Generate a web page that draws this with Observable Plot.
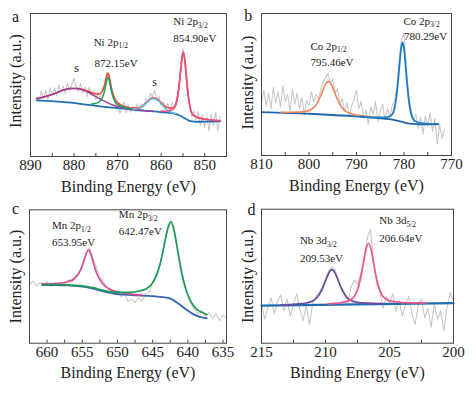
<!DOCTYPE html>
<html><head><meta charset="utf-8">
<script src="https://cdn.jsdelivr.net/npm/d3@7"></script>
<script src="https://cdn.jsdelivr.net/npm/@observablehq/plot@0.6"></script>
<style>
body{margin:0;background:#fff;}
#wrap{position:relative;width:476px;height:393px;background:#fff;overflow:hidden;font-family:'Liberation Serif',serif;}
.panel{position:absolute;}
.panel svg text{font-family:'Liberation Serif',serif;}
</style></head><body><div id="wrap"></div>
<script>
// ---------- Panel a: Ni 2p ----------
const aTicks = [890, 880, 870, 860, 850];
const aMinor = [885, 875, 865, 855];
const aRaw = [[888.5,41.5],[888,38.8],[887.5,46],[887,40.7],[886.5,46.2],[886,39.6],[885.5,48],[885,43.5],[884.5,48],[884,42.6],[883.5,50.2],[883,44.7],[882.5,49.3],[882,43.8],[881.5,51.2],[881,45.5],[880.5,50.7],[880,54.7],[879.5,48.6],[879,45.5],[878.5,51.2],[878,43.9],[877.5,48.5],[877,42],[876.5,48.4],[876,42.9],[875.5,46.2],[875,39.8],[874.5,44.6],[874,40.8],[873.5,47.5],[873,50.7],[872.5,58.5],[872,58],[871.5,47],[871,44],[870.5,35.7],[870,38.8],[869.5,30.5],[869,33.6],[868.5,38],[868,30.6],[867.5,36.1],[867,30.9],[866.5,34.8],[866,31.8],[865.5,36.9],[865,33.3],[864.5,36.9],[864,34.9],[863.5,40.4],[863,37.9],[862.5,44.3],[862,41.9],[861.5,46],[861,39.4],[860.5,42.2],[860,35.7],[859.5,38.2],[859,32.9],[858.5,37.2],[858,31.9],[857.5,37.9],[857,34.4],[856.5,39.8],[856,47.4],[855.5,62.9],[855,75.5],[854.5,66],[854,50],[853.5,38],[853,28],[852.5,31.7],[852,25.8],[851.5,31.2],[851,21.7],[850.5,29.4],[850,20.1],[849.5,27.9],[849,17.7],[848.5,29.5],[848,21.3],[847.5,31.2],[847,18.1],[846.5,28]];
const aBackground = [[888.6,39.2],[881.6,37.8],[874,35.0],[866.3,32.7],[860.2,31.1],[857,29.9],[855.6,28.5],[854.4,26.4],[853.3,24.8],[851.7,24.3],[846.5,24.5]];
const aSatellite1 = [[888.6,40.5],[887.4,41.2],[885.4,43.0],[883.9,44.7],[882.4,46.5],[880.9,47.5],[879.4,47.6],[877.9,46.4],[876.4,44.4],[874.9,41.7],[873.4,39.2],[871.9,37.0],[870.4,35.3],[868.9,34.2],[867.4,33.3],[865,32.4],[862,31.6]];
const aPeak1 = [[876,36.7],[875,37.2],[874,38.8],[873.5,41.1],[873,45.8],[872.6,51.8],[872.2,55.5],[871.8,51.5],[871.4,45.3],[870.9,40.3],[870.4,37.6],[869.4,35.3],[868.4,34.2],[867,33.4]];
const aSatellite2 = [[866.5,33.0],[865.5,33.3],[864.5,34.4],[863.5,36.9],[862.5,39.7],[861.7,40.4],[860.8,39.2],[859.8,36.1],[858.8,33.0],[857.8,31.1],[856.8,30.1]];
const aPeak2 = [[860,31.7],[859,31.65],[858,32.1],[857,34.0],[856.5,37.6],[856,46.3],[855.5,60.9],[855.2,69.4],[854.9,72.9],[854.6,68.4],[854.3,58.8],[853.8,42.7],[853.3,33.5],[852.8,29.5],[851.8,27.5],[850.8,26.6],[849.8,26.0],[847.9,25.3],[846.5,25.0]];
const aEnvelope = [[888.6,40.5],[887.4,41.2],[885.4,43.0],[883.9,44.7],[882.4,46.5],[880.9,47.6],[879.4,47.6],[877.9,46.9],[876.4,45.2],[875.4,44.0],[874.4,43.6],[873.6,45.2],[873.0,49.7],[872.6,55.3],[872.2,58.4],[871.8,54.1],[871.4,47.6],[870.9,42.3],[870.4,39.1],[869.4,36.3],[868.4,34.9],[867.4,34.0],[866.5,33.8],[865.5,33.9],[864.5,34.9],[863.5,37.4],[862.5,40.3],[861.7,41.05],[860.8,39.85],[859.8,37.0],[858.8,34.4],[857.8,33.9],[857,34.4],[856.5,37.75],[856,46.4],[855.5,60.9],[855.2,69.4],[854.9,72.9],[854.6,68.4],[854.3,58.8],[853.8,42.7],[853.3,33.5],[852.8,29.5],[851.8,27.5],[850.8,26.6],[849.8,26.0],[847.9,25.3],[846.5,25.0]];
const aNotes = [
  {E: 875.5, v: 80.0, t: "Ni 2p_{1/2}"}, {E: 875.3, v: 65.4, t: "872.15eV"},
  {E: 857.2, v: 94.2, t: "Ni 2p_{3/2}"}, {E: 857.2, v: 82.8, t: "854.90eV"}];
const aSatLabels = [{E: 879.4, v: 61.7, t: "s"}, {E: 861.5, v: 51.9, t: "s"}];

// ---------- Panel b: Co 2p ----------
const bTicks = [810, 800, 790, 780, 770];
const bMinor = [805, 795, 785, 775];
const bRaw = [[810,38],[809.5,46],[809,35],[808.5,44],[808,33],[807.5,48],[807,37],[806.5,45],[806,34],[805.5,49],[805,38],[804.5,43],[804,31],[803.5,47],[803,36],[802.5,44],[802,33],[801.5,41],[801,28],[800.5,39],[800,35],[799.5,45],[799,38],[798.5,43],[798,40],[797.5,47],[797,52],[796.5,55],[796,58],[795.5,51],[795,54],[794.5,44],[794,47],[793.5,36],[793,40],[792.5,31],[792,37],[791.5,28],[791,35],[790.5,40],[790,46],[789.5,33],[789,38],[788.5,26],[788,32],[787.5,22],[787,34],[786.5,29],[786,38],[785.5,24],[785,31],[784.5,36],[784,25],[783.5,33],[783,28],[782.5,35],[782,39],[781.5,48],[781,68],[780.5,82],[780,86],[779.5,62],[779,42],[778.5,33],[778,24],[777.5,29],[777,19],[776.5,27],[776,15],[775.5,28],[775,21],[774.5,30],[774,17],[773.5,26],[773,8],[772.5,22],[772,12],[771.5,18]];
const bBackground = [[810,30.6],[800,29.4],[790,27.5],[784.4,25.9],[782.5,25.3],[781.5,24.6],[780.3,23.6],[779.4,22.8],[778.3,22.2],[776.6,21.9],[772.8,21.9]];
const bPeak1 = [[805.9,30.5],[803.9,30.5],[801.9,30.6],[800.4,31.25],[799.2,33.15],[798.4,36.2],[797.7,40.75],[797.1,45.7],[796.5,50.3],[795.9,52.2],[795.3,50.1],[794.7,45.3],[794.1,40.15],[793.4,35.4],[792.6,31.95],[791.4,29.7],[789.9,28.55],[787.9,27.6],[785.9,26.7]];
const bPeak2 = [[789.3,27.5],[786.3,26.8],[784.3,26.8],[783.3,27.2],[782.5,28.9],[782.0,33.3],[781.6,41.2],[781.25,52.35],[780.9,65.8],[780.6,75.6],[780.3,79.6],[780.0,75.1],[779.7,64.7],[779.35,50.8],[779.0,39.15],[778.6,30.65],[778.1,25.75],[777.3,23.6],[776.3,22.8],[774.3,22.3],[772.8,22.2]];
const bNotes = [
  {E: 780.1, v: 94.6, t: "Co 2p_{3/2}"}, {E: 780.0, v: 83.6, t: "780.29eV"},
  {E: 799.7, v: 77.0, t: "Co 2p_{1/2}"}, {E: 799.7, v: 65.2, t: "795.46eV"}];

// ---------- Panel c: Mn 2p ----------
const cTicks = [660, 655, 650, 645, 640, 635];
const cMinor = [657.5, 652.5, 647.5, 642.5, 637.5];
const cRaw = [[662.5,44],[662,46.5],[661.5,43],[661,45.5],[660.5,44],[660,46],[659.5,42.5],[659,45],[658.5,43.5],[658,46],[657.5,44],[657,47.5],[656.5,46],[656,50],[655.5,52.5],[655,59],[654.5,66],[654,71.5],[653.5,64],[653,57],[652.5,50],[652,46],[651.5,42],[651,39.5],[650.5,37],[650,39],[649.5,35],[649,37.5],[648.5,31],[648,33],[647.5,30.5],[647,34],[646.5,31.5],[646,37],[645.5,38],[645,45],[644.5,52],[644,58.5],[643.5,70],[643,82],[642.5,90],[642,88],[641.5,73],[641,58],[640.5,46],[640,36],[639.5,29],[639,25],[638.5,22],[638,24.5],[637.5,20],[637,23],[636.5,18.5],[636,22],[635.5,17],[635,21],[634.5,19]];
const cBackground = [[660.7,43.8],[657,43.3],[655,42.5],[653.5,41.0],[652,38.8],[650.5,37.2],[648,36.0],[645,35.3],[643.5,34.5],[642.3,33.0],[641.3,29.5],[640.3,25.5],[639.3,22.0],[638.3,19.8],[637.3,18.8]];
const cPeak1 = [[660.7,44.4],[658.5,44.9],[657.1,46.1],[656.1,48.5],[655.3,54.2],[654.8,61.1],[654.4,67.8],[654.1,69.8],[653.8,67.2],[653.4,59.7],[652.9,51.7],[652.1,44.6],[651.1,40.4],[649.7,38.2],[648.1,36.8],[646.5,36.1]];
const cPeak2 = [[660.7,44.0],[657,43.6],[655,43.0],[653.5,41.6],[652,39.65],[650.5,38.3],[648.3,38.1],[646.9,39.1],[645.9,40.85],[645.1,44.5],[644.4,51.4],[643.9,60.1],[643.4,72.3],[642.9,85.1],[642.4,91.1],[641.9,83.1],[641.4,68.0],[640.9,53.4],[640.4,42.4],[639.7,32.6],[638.9,26.3],[637.9,22.8],[637.3,21.5]];
const cNotes = [
  {E: 659.3, v: 88.2, t: "Mn 2p_{1/2}"}, {E: 659.3, v: 75.8, t: "653.95eV"},
  {E: 649.8, v: 96.2, t: "Mn 2p_{3/2}"}, {E: 649.8, v: 83.4, t: "642.47eV"}];

// ---------- Panel d: Nb 3d ----------
const dTicks = [215, 210, 205, 200];
const dMinor = [212.5, 207.5, 202.5];
const dRaw = [[215,30],[214.75,18],[214.5,27],[214.25,34],[214,22],[213.75,31],[213.5,36],[213.25,24],[213,33],[212.75,20],[212.5,29],[212.25,37],[212,25],[211.75,17],[211.5,28],[211.25,14],[211,30],[210.75,35],[210.5,38],[210.25,42],[210,48],[209.75,54],[209.5,57],[209.25,55],[209,47],[208.75,41],[208.5,37],[208.25,30],[208,42],[207.75,47],[207.5,44],[207.25,52],[207,63],[206.75,78],[206.5,85],[206.25,62],[206,44],[205.75,38],[205.5,26],[205.25,35],[205,30],[204.75,37],[204.5,24],[204.25,32],[204,20],[203.75,29],[203.5,35],[203.25,22],[203,14],[202.75,28],[202.5,33],[202.25,19],[202,26],[201.75,12],[201.5,30],[201.25,18],[201,24],[200.75,9],[200.5,27],[200.25,38],[200,31]];
const dBackground = [[215,28.1],[200,29.9]];
const dPeak1 = [[213.5,28.67],[212.3,29.2],[211.5,30.0],[210.9,32.0],[210.5,36.1],[210.2,41.7],[210.0,46.5],[209.75,52.2],[209.5,54.9],[209.25,52.3],[209.0,46.6],[208.8,41.9],[208.5,36.4],[208.1,32.3],[207.5,30.5],[206.7,29.9],[205.5,29.6]];
const dPeak2 = [[209.8,29.4],[208.9,30.1],[208.24,31.4],[207.74,35.0],[207.44,41.55],[207.19,51.8],[207.04,59.7],[206.84,69.9],[206.64,74.6],[206.44,70.0],[206.24,59.75],[206.09,51.9],[205.84,41.75],[205.54,35.2],[205.04,31.75],[204.34,30.6],[203.44,30.1],[202.14,30.0]];
const dNotes = [
  {E: 205.8, v: 91.5, t: "Nb 3d_{5/2}"}, {E: 205.8, v: 78.0, t: "206.64eV"},
  {E: 212.0, v: 76.6, t: "Nb 3d_{3/2}"}, {E: 212.0, v: 63.0, t: "209.53eV"}];

const FONT = "Liberation Serif";
const INK = "#222";

function panel(cfg) {
  const {left, top, width, height, ml, mr, mt, mb, domain, ticks, minor, letter, lines, notes, extra, ylDx, ylDy, letterDx, letterDy} = cfg;
  const innerH = height - mt - mb;
  const marks = [
    ...lines.map(([data, stroke, sw, curve]) => Plot.line(data, {x: d => d[0], y: d => d[1], stroke, strokeWidth: sw, curve})),
    Plot.frame({stroke: "#444", strokeWidth: 1}),
    Plot.tickX([...ticks, ...minor], {x: d => d, insetTop: innerH - 3, stroke: "#444", strokeWidth: 1}),
    Plot.axisX(ticks, {tickSize: 0, tickPadding: 3, fontSize: 15, fontFamily: FONT, label: null, tickFormat: d => String(d)}),
    Plot.text(notes, {x: "E", y: "v", text: "t", textAnchor: "start", lineAnchor: "middle", fontSize: 11, fontFamily: FONT, fill: INK}),
    Plot.text(["Binding Energy (eV)"], {frameAnchor: "bottom", dy: 30, lineAnchor: "middle", fontSize: 16, fontFamily: FONT, fill: INK}),
    Plot.text(["Intensity (a.u.)"], {frameAnchor: "left", dx: ylDx, dy: ylDy, rotate: -90, textAnchor: "middle", lineAnchor: "middle", fontSize: 16, fontFamily: FONT, fill: INK}),
    Plot.text([letter], {frameAnchor: "top-left", dx: letterDx, dy: letterDy, textAnchor: "middle", lineAnchor: "middle", fontSize: 16, fontFamily: FONT, fill: INK})
  ];
  if (extra) marks.push(Plot.text(extra, {x: "E", y: "v", text: "t", textAnchor: "middle", lineAnchor: "middle", fontSize: 12, fontFamily: FONT, fill: INK}));
  const svg = Plot.plot({
    width, height, marginLeft: ml, marginRight: mr, marginTop: mt, marginBottom: mb,
    x: {domain},
    y: {domain: [0, 100], axis: null},
    style: {fontFamily: FONT, fontSize: "15px", color: INK, background: "transparent", overflow: "visible"},
    marks
  });
  // subscripts such as 2p_{1/2}
  d3.select(svg).selectAll("text").each(function () {
    const m = (this.textContent || "").match(/^(.*)_\{(.*)\}$/);
    if (m) {
      this.textContent = m[1];
      d3.select(this).append("tspan").attr("font-size", "7.5px").attr("dy", "2.5").text(m[2]);
    }
  });
  const div = document.createElement("div");
  div.className = "panel";
  div.style.left = left + "px";
  div.style.top = top + "px";
  div.appendChild(svg);
  document.getElementById("wrap").appendChild(div);
}

const RAW = "#c8c8c8";
panel({left: 0, top: 0, width: 238, height: 196, ml: 30, mr: 12, mt: 13, mb: 40,
  domain: [890, 845], ticks: aTicks, minor: aMinor, letter: "a", ylDx: -15, ylDy: -4, letterDx: -15, letterDy: 3,
  lines: [[aRaw, RAW, 1.1, "linear"], [aEnvelope, "#ef4a3a", 1.6, "monotone-x"], [aBackground, "#2270b3", 1.8, "monotone-x"],
          [aSatellite1, "#9a3f9c", 1.5, "monotone-x"], [aSatellite2, "#5cc3e6", 1.5, "monotone-x"],
          [aPeak1, "#23a35a", 1.5, "monotone-x"], [aPeak2, "#ec5080", 1.6, "monotone-x"]],
  notes: aNotes, extra: aSatLabels});
panel({left: 238, top: 0, width: 238, height: 196, ml: 23, mr: 25, mt: 13, mb: 41,
  domain: [810, 770], ticks: bTicks, minor: bMinor, letter: "b", ylDx: -13.3, ylDy: -2, letterDx: -13.3, letterDy: 2,
  lines: [[bRaw, RAW, 1.1, "linear"], [bBackground, "#2166ab", 1.8, "monotone-x"],
          [bPeak1, "#f0875a", 1.6, "monotone-x"], [bPeak2, "#1f7cc2", 1.8, "monotone-x"]],
  notes: bNotes});
panel({left: 0, top: 196, width: 238, height: 197, ml: 29, mr: 12, mt: 13.3, mb: 50.3,
  domain: [662.5, 634.5], ticks: cTicks, minor: cMinor, letter: "c", ylDx: -14, ylDy: 0, letterDx: -14, letterDy: -0.6,
  lines: [[cRaw, RAW, 1.1, "linear"], [cBackground, "#3566b0", 1.8, "monotone-x"],
          [cPeak1, "#d9508d", 1.7, "monotone-x"], [cPeak2, "#1e9a55", 1.7, "monotone-x"]],
  notes: cNotes});
panel({left: 238, top: 196, width: 238, height: 197, ml: 23, mr: 23, mt: 12.7, mb: 50.3,
  domain: [215, 200], ticks: dTicks, minor: dMinor, letter: "d", ylDx: -13.3, ylDy: 0, letterDx: -10, letterDy: 1,
  lines: [[dRaw, RAW, 1.1, "linear"], [dBackground, "#1f6db3", 2.2, "linear"],
          [dPeak1, "#6a4b9c", 1.7, "monotone-x"], [dPeak2, "#e9588f", 1.7, "monotone-x"]],
  notes: dNotes});
</script>
</body></html>
